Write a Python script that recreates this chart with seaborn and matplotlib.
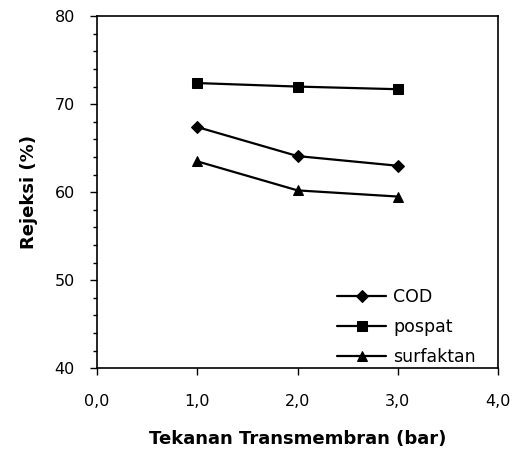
import pandas as pd
import seaborn as sns
import matplotlib.pyplot as plt
from matplotlib.ticker import MultipleLocator, FuncFormatter

tekanan = [1.0, 2.0, 3.0]
cod = [67.4, 64.1, 63.0]
pospat = [72.4, 72.0, 71.7]
surfaktan = [63.5, 60.2, 59.5]

series = {'COD': cod, 'pospat': pospat, 'surfaktan': surfaktan}
markers = {'COD': 'D', 'pospat': 's', 'surfaktan': '^'}
msize = {'COD': 6.5, 'pospat': 6.5, 'surfaktan': 7.5}

sns.set_theme(style="white")
plt.rcParams['font.family'] = ['DejaVu Sans']
plt.rcParams['text.color'] = 'black'
plt.rcParams['axes.labelcolor'] = 'black'

fig = plt.figure(figsize=(5.22, 4.5), dpi=100)
ax = fig.add_axes([0.186, 0.182, 0.768, 0.782])

for name, vals in series.items():
    df = pd.DataFrame({'x': tekanan, 'y': vals})
    sns.lineplot(data=df, x='x', y='y', ax=ax, color='black', linewidth=1.6,
                 marker=markers[name], markersize=msize[name],
                 markeredgecolor='black', markerfacecolor='black', label=name)

ax.set_xlim(0, 4)
ax.set_ylim(40, 80)
ax.xaxis.set_major_locator(MultipleLocator(1))
ax.yaxis.set_major_locator(MultipleLocator(10))
ax.yaxis.set_minor_locator(MultipleLocator(2))
ax.xaxis.set_major_formatter(FuncFormatter(lambda v, p: f'{v:.1f}'.replace('.', ',')))
ax.tick_params(axis='both', which='major', direction='out', length=5, width=1,
               color='black', labelsize=11.5, labelcolor='black', bottom=True, left=True)
ax.tick_params(axis='y', which='minor', direction='out', length=3, width=1,
               color='black', left=True)
ax.tick_params(axis='x', pad=14)
ax.tick_params(axis='y', pad=11)
for s in ax.spines.values():
    s.set_color('black')
    s.set_linewidth(1.2)

ax.set_xlabel('Tekanan Transmembran (bar)', fontsize=13, fontweight='bold', labelpad=15)
ax.set_ylabel('Rejeksi (%)', fontsize=13, fontweight='bold', labelpad=12)

leg = ax.legend(loc='lower right', bbox_to_anchor=(0.97, -0.025), frameon=False,
                fontsize=12.5, handlelength=2.8, handletextpad=0.4,
                labelspacing=0.7, borderaxespad=0.2)

fig.savefig('out.png', dpi=100)
